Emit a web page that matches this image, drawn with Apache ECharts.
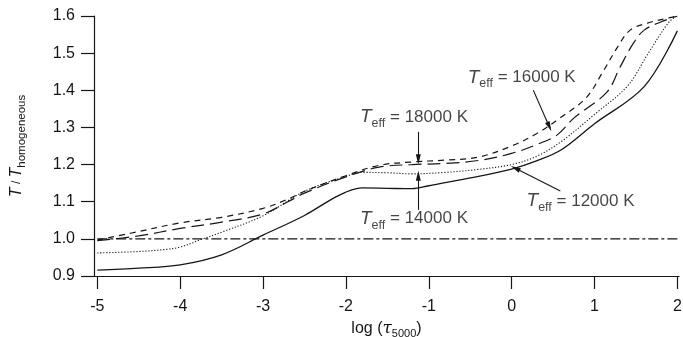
<!DOCTYPE html>
<html><head><meta charset="utf-8">
<script src="https://cdn.jsdelivr.net/npm/echarts@6/dist/echarts.min.js"></script>
<style>html,body{margin:0;padding:0;background:#fff}#c{width:683px;height:337px}</style>
</head><body><div id="c"></div>
<script>
const xTicks = [-5, -4, -3, -2, -1, 0, 1, 2];
const refLine = [[-5, 1.0], [2, 1.0]];
const t12000 = [[-5,0.916],[-4.5,0.921],[-4,0.93],[-3.5,0.957],[-3,1.01],[-2.5,1.063],[-2.2,1.103],[-2,1.126],[-1.8,1.137],[-1.5,1.136],[-1.2,1.135],[-1,1.143],[-0.5,1.164],[0,1.188],[0.3,1.21],[0.6,1.24],[1,1.31],[1.6,1.41],[2,1.56]];
const t14000 = [[-5,0.962],[-4.5,0.966],[-4.2,0.971],[-4,0.978],[-3.75,0.998],[-3.5,1.018],[-3,1.062],[-2.5,1.128],[-2,1.168],[-1.8,1.179],[-1.5,1.178],[-1.2,1.175],[-0.8,1.179],[-0.4,1.187],[0,1.2],[0.3,1.222],[0.6,1.262],[1,1.335],[1.4,1.412],[1.65,1.5],[1.9,1.584],[2,1.6]];
const t16000 = [[-5,0.997],[-4.6,1.015],[-4,1.043],[-3.5,1.058],[-3,1.082],[-2.7,1.107],[-2.5,1.128],[-2,1.17],[-1.6,1.198],[-1.2,1.207],[-0.8,1.212],[-0.4,1.22],[0,1.25],[0.3,1.283],[0.6,1.328],[0.9,1.38],[1.1,1.449],[1.28,1.517],[1.43,1.562],[1.64,1.581],[1.9,1.595],[2,1.6]];
const t18000 = [[-5,0.995],[-4.5,1.008],[-4,1.028],[-3.5,1.045],[-3,1.067],[-2.7,1.1],[-2.5,1.123],[-2,1.167],[-1.6,1.193],[-1.2,1.2],[-0.8,1.203],[-0.4,1.211],[0,1.23],[0.35,1.258],[0.55,1.28],[0.75,1.325],[1.15,1.395],[1.31,1.463],[1.47,1.527],[1.6,1.562],[1.8,1.584],[2,1.6]];
const annoLabels = [
  {name: '18000', pos: [-1.83, 1.328]},
  {name: '14000', pos: [-1.83, 1.054]},
  {name: '12000', pos: [0.18, 1.102]},
  {name: '16000', pos: [-0.53, 1.435]}
];
const annoArrows = [
  [[-1.126, 1.288], [-1.126, 1.214]],
  [[-1.126, 1.078], [-1.126, 1.170]],
  [[0.588, 1.129], [0.045, 1.190]],
  [[0.262, 1.400], [0.455, 1.302]]
];

const ink = '#161616';
const ff = 'Liberation Sans, Arial, sans-serif';
const chart = echarts.init(document.getElementById('c'));
function line(name, data, type, width, smooth) {
  return {name, type: 'line', data, showSymbol: false, symbol: 'none', smooth: smooth,
    lineStyle: {color: ink, width, type}, silent: true, z: 3};
}
chart.setOption({
  animation: false,
  grid: {left: 94, right: 4, top: 16, bottom: 61, containLabel: false, outerBoundsMode: 'none'},
  xAxis: {
    type: 'value', min: -5.04, max: 2.02,
    axisLine: {onZero: false, lineStyle: {color: ink, width: 1.2}},
    axisTick: {customValues: xTicks, length: 13, lineStyle: {color: ink, width: 1.2}},
    axisLabel: {customValues: xTicks, margin: 23, color: ink, fontSize: 16, fontFamily: ff},
    splitLine: {show: false},
    name: '{n|log (}{tau|τ}{sub|5000}{n|)}', nameLocation: 'middle', nameGap: 33,
    nameTextStyle: {rich: {
      n: {fontSize: 16, fontFamily: ff, color: ink, lineHeight: 22, verticalAlign: 'middle'},
      tau: {fontSize: 17, fontFamily: 'DejaVu Serif, serif', fontStyle: 'italic', color: ink, lineHeight: 22, verticalAlign: 'middle'},
      sub: {fontSize: 11, fontFamily: ff, color: ink, lineHeight: 22, verticalAlign: 'bottom'}
    }}
  },
  yAxis: {
    type: 'value', min: 0.9, max: 1.6, interval: 0.1,
    axisLine: {show: true, onZero: false, lineStyle: {color: ink, width: 1.2}},
    axisTick: {show: true, length: 13, lineStyle: {color: ink, width: 1.2}},
    axisLabel: {margin: 19, color: ink, fontSize: 16, fontFamily: ff, formatter: v => v.toFixed(1)},
    splitLine: {show: false},
    name: '{it|T} / {it|T}{sub|homogeneous}', nameLocation: 'middle', nameGap: 66,
    nameTextStyle: {rich: {
      it: {fontSize: 16, fontFamily: ff, fontStyle: 'italic', color: ink, lineHeight: 22, verticalAlign: 'middle'},
      sub: {fontSize: 11.5, fontFamily: ff, color: ink, lineHeight: 22, verticalAlign: 'bottom'}
    }}
  },
  series: [
    line('ref', refLine, [10, 3, 3, 3], 1.1, false),
    line('12000 K', t12000, 'solid', 1.3, 0.35),
    line('14000 K', t14000, [1.2, 1.8], 1.1, 0.35),
    line('16000 K', t16000, [6, 5], 1.2, 0.35),
    line('18000 K', t18000, [13, 6], 1.2, 0.35),
    {
      type: 'scatter', name: 'labels', symbolSize: 0, silent: true, z: 5,
      data: annoLabels.map(a => ({name: a.name, value: a.pos})),
      label: {show: true, position: 'right', distance: 0,
        formatter: p => '{t|T}{s|eff}{n| = ' + p.name + ' K}',
        rich: {
          t: {fontSize: 19, fontFamily: ff, fontStyle: 'italic', color: ink, lineHeight: 26, verticalAlign: 'middle'},
          s: {fontSize: 12.5, fontFamily: ff, color: ink, lineHeight: 26, verticalAlign: 'bottom'},
          n: {fontSize: 17, fontFamily: ff, color: ink, lineHeight: 26, verticalAlign: 'middle'}
        }},
      markLine: {
        silent: true, symbol: ['none', 'triangle'], symbolSize: [5, 10],
        label: {show: false}, lineStyle: {color: ink, width: 1.1, type: 'solid'},
        data: annoArrows.map(a => [{coord: a[0]}, {coord: a[1]}])
      }
    }
  ]
});
</script></body></html>
